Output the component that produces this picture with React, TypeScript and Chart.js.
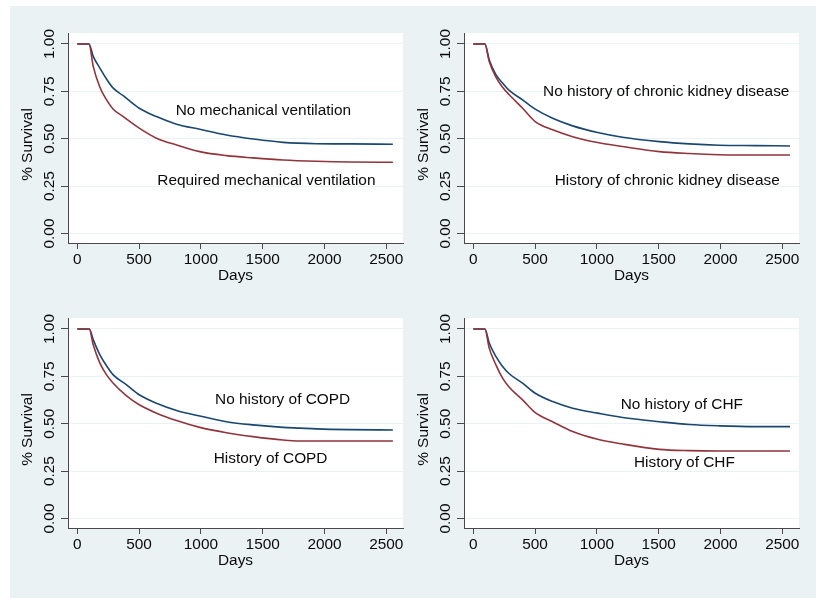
import React, { useEffect, useRef } from 'react';
import { Chart, registerables } from 'chart.js';

Chart.register(...registerables);

// ---------- shared axis data ----------
const X_TICKS = [0, 500, 1000, 1500, 2000, 2500];
const X_TICK_LABELS = ['0', '500', '1000', '1500', '2000', '2500'];
const Y_TICKS = [0, 0.25, 0.5, 0.75, 1];
const Y_TICK_LABELS = ['0.00', '0.25', '0.50', '0.75', '1.00'];
const X_TITLE = 'Days';
const Y_TITLE = '% Survival';

// ---------- panel 1: mechanical ventilation ----------
const P1_DAYS = [0, 95, 129, 183, 237, 291, 372, 501, 641, 803, 991, 1207, 1422, 1664, 1934, 2203, 2553];
const P1_NO = [1, 1, 0.935, 0.873, 0.815, 0.767, 0.727, 0.661, 0.617, 0.577, 0.55, 0.52, 0.499, 0.481, 0.474, 0.473, 0.471];
const P1_YES = [1, 1, 0.882, 0.772, 0.705, 0.656, 0.617, 0.556, 0.503, 0.467, 0.432, 0.411, 0.399, 0.388, 0.381, 0.377, 0.376];
const P1_LABELS = ['No mechanical ventilation', 'Required mechanical ventilation'];
const P1_LABEL_X = [1506, 1530];
const P1_LABEL_Y = [0.626, 0.256];

// ---------- panel 2: chronic kidney disease ----------
const P2_DAYS = [0, 94, 129, 183, 237, 291, 399, 501, 642, 804, 1006, 1208, 1505, 1748, 1990, 2287, 2562];
const P2_NO = [1, 1, 0.917, 0.838, 0.794, 0.755, 0.705, 0.656, 0.608, 0.568, 0.533, 0.508, 0.485, 0.473, 0.466, 0.464, 0.462];
const P2_YES = [1, 1, 0.908, 0.825, 0.772, 0.732, 0.661, 0.591, 0.547, 0.511, 0.48, 0.459, 0.432, 0.422, 0.416, 0.414, 0.414];
const P2_LABELS = ['No history of chronic kidney disease', 'History of chronic kidney disease'];
const P2_LABEL_X = [1561, 1569];
const P2_LABEL_Y = [0.723, 0.256];

// ---------- panel 3: COPD ----------
const P3_DAYS = [0, 97, 129, 183, 237, 291, 399, 501, 641, 803, 991, 1207, 1422, 1664, 1800, 1934, 2203, 2553];
const P3_NO = [1, 1, 0.944, 0.864, 0.806, 0.758, 0.705, 0.653, 0.608, 0.57, 0.541, 0.511, 0.494, 0.481, 0.477, 0.473, 0.469, 0.467];
const P3_YES = [1, 1, 0.917, 0.82, 0.758, 0.714, 0.647, 0.6, 0.556, 0.517, 0.481, 0.453, 0.432, 0.414, 0.409, 0.409, 0.409, 0.409];
const P3_LABELS = ['No history of COPD', 'History of COPD'];
const P3_LABEL_X = [1661, 1564];
const P3_LABEL_Y = [0.603, 0.291];

// ---------- panel 4: CHF ----------
const P4_DAYS = [0, 94, 129, 183, 237, 291, 399, 501, 642, 804, 1006, 1208, 1505, 1748, 1990, 2287, 2562];
const P4_NO = [1, 1, 0.926, 0.855, 0.802, 0.764, 0.714, 0.661, 0.617, 0.582, 0.556, 0.533, 0.511, 0.496, 0.489, 0.485, 0.485];
const P4_YES = [1, 1, 0.899, 0.811, 0.741, 0.693, 0.626, 0.559, 0.511, 0.459, 0.418, 0.393, 0.365, 0.358, 0.356, 0.356, 0.356];
const P4_LABELS = ['No history of CHF', 'History of CHF'];
const P4_LABEL_X = [1687, 1708];
const P4_LABEL_Y = [0.578, 0.27];

// ---------- styling ----------
const BG = '#EAF2F3';
const BLUE = '#1A476F';
const RED = '#90353B';
const AXIS = '#4a4a4a';
const TEXT = '#0a0a0a';
const FONT_FAMILY = '"Liberation Sans", Arial, sans-serif';
const FONT_SIZE = 15.4;

const AXIS_W = 60;
const AXIS_H = 60;
const PAD_TOP = 30;
const PAD_RIGHT = 10;
const PLOT_W = 335;
const PLOT_H = 210;

type PanelProps = {
  left: number;
  top: number;
  days: number[];
  no: number[];
  yes: number[];
  labels: string[];
  labelX: number[];
  labelY: number[];
};

function Panel({ left, top, days, no, yes, labels, labelX, labelY }: PanelProps) {
  const ref = useRef<HTMLCanvasElement | null>(null);

  useEffect(() => {
    const canvas = ref.current;
    if (!canvas) return;

    const decor = {
      id: 'decor',
      beforeDraw(chart: any) {
        const { ctx, chartArea } = chart;
        ctx.save();
        ctx.fillStyle = '#ffffff';
        ctx.fillRect(chartArea.left, chartArea.top, chartArea.right - chartArea.left, chartArea.bottom - chartArea.top);
        ctx.restore();
      },
      afterDraw(chart: any) {
        const { ctx, chartArea } = chart;
        const xs = chart.scales.x;
        const ys = chart.scales.y;
        ctx.save();
        ctx.fillStyle = TEXT;
        ctx.font = `${FONT_SIZE}px ${FONT_FAMILY}`;
        // y tick labels, rotated
        Y_TICKS.forEach((v, i) => {
          const py = ys.getPixelForValue(v);
          ctx.save();
          ctx.translate(chartArea.left - 14, py);
          ctx.rotate(-Math.PI / 2);
          ctx.textAlign = 'center';
          ctx.textBaseline = 'alphabetic';
          ctx.fillText(Y_TICK_LABELS[i], 0, 0);
          ctx.restore();
        });
        // y title
        ctx.save();
        ctx.translate(chartArea.left - 36, chartArea.top + 111.5);
        ctx.rotate(-Math.PI / 2);
        ctx.textAlign = 'center';
        ctx.textBaseline = 'alphabetic';
        ctx.fillText(Y_TITLE, 0, 0);
        ctx.restore();
        // x title
        ctx.textAlign = 'center';
        ctx.textBaseline = 'alphabetic';
        ctx.fillText(X_TITLE, (chartArea.left + chartArea.right) / 2, chartArea.bottom + 37);
        // curve labels
        labels.forEach((t, i) => {
          ctx.fillText(t, xs.getPixelForValue(labelX[i]), ys.getPixelForValue(labelY[i]));
        });
        ctx.restore();
      },
    };

    const chart = new Chart(canvas, {
      type: 'line',
      data: {
        datasets: [
          {
            label: 'yes',
            data: days.map((d, i) => ({ x: d, y: yes[i] })),
            borderColor: RED,
            borderWidth: 1.6,
            pointRadius: 0,
            cubicInterpolationMode: 'monotone',
            fill: false,
          },
          {
            label: 'no',
            data: days.map((d, i) => ({ x: d, y: no[i] })),
            borderColor: BLUE,
            borderWidth: 1.6,
            pointRadius: 0,
            cubicInterpolationMode: 'monotone',
            fill: false,
          },
        ],
      },
      options: {
        animation: false,
        responsive: false,
        maintainAspectRatio: false,
        devicePixelRatio: 1,
        events: [],
        layout: { padding: { left: 0, top: PAD_TOP, right: PAD_RIGHT, bottom: 0 } },
        plugins: { legend: { display: false }, tooltip: { enabled: false }, title: { display: false } },
        scales: {
          x: {
            type: 'linear',
            min: -75,
            max: 2635,
            afterBuildTicks: (s: any) => {
              s.ticks = X_TICKS.map((v) => ({ value: v }));
            },
            afterFit: (s: any) => {
              s.height = AXIS_H;
            },
            ticks: {
              autoSkip: false,
              maxRotation: 0,
              minRotation: 0,
              padding: 1.5,
              color: TEXT,
              font: { family: FONT_FAMILY, size: FONT_SIZE },
              callback: (v: any) => {
                const idx = X_TICKS.indexOf(Number(v));
                return idx >= 0 ? X_TICK_LABELS[idx] : '';
              },
            },
            grid: { drawOnChartArea: false, drawTicks: true, tickLength: 6, tickColor: AXIS, color: AXIS },
            border: { display: true, color: AXIS, width: 1 },
          },
          y: {
            type: 'linear',
            min: -0.05,
            max: 1.058,
            afterBuildTicks: (s: any) => {
              s.ticks = Y_TICKS.map((v) => ({ value: v }));
            },
            afterFit: (s: any) => {
              s.width = AXIS_W;
            },
            ticks: { display: false },
            grid: { drawOnChartArea: true, drawTicks: true, tickLength: 7, color: BG, tickColor: AXIS, lineWidth: 1 },
            border: { display: true, color: AXIS, width: 1 },
          },
        },
      },
      plugins: [decor],
    } as any);

    return () => chart.destroy();
  }, []);

  const w = AXIS_W + PLOT_W + PAD_RIGHT;
  const h = PAD_TOP + PLOT_H + AXIS_H;
  return (
    <canvas
      ref={ref}
      width={w}
      height={h}
      style={{ position: 'absolute', left: left - AXIS_W, top: top - PAD_TOP, width: w, height: h }}
    />
  );
}

export default function App() {
  return (
    <div style={{ position: 'absolute', left: 0, top: 0, width: 816, height: 598, background: '#ffffff', overflow: 'hidden' }}>
      <div style={{ position: 'absolute', left: 10, top: 6, width: 806, height: 592, background: BG }} />
      <Panel left={68} top={33} days={P1_DAYS} no={P1_NO} yes={P1_YES} labels={P1_LABELS} labelX={P1_LABEL_X} labelY={P1_LABEL_Y} />
      <Panel left={464} top={33} days={P2_DAYS} no={P2_NO} yes={P2_YES} labels={P2_LABELS} labelX={P2_LABEL_X} labelY={P2_LABEL_Y} />
      <Panel left={68} top={318} days={P3_DAYS} no={P3_NO} yes={P3_YES} labels={P3_LABELS} labelX={P3_LABEL_X} labelY={P3_LABEL_Y} />
      <Panel left={464} top={318} days={P4_DAYS} no={P4_NO} yes={P4_YES} labels={P4_LABELS} labelX={P4_LABEL_X} labelY={P4_LABEL_Y} />
    </div>
  );
}
